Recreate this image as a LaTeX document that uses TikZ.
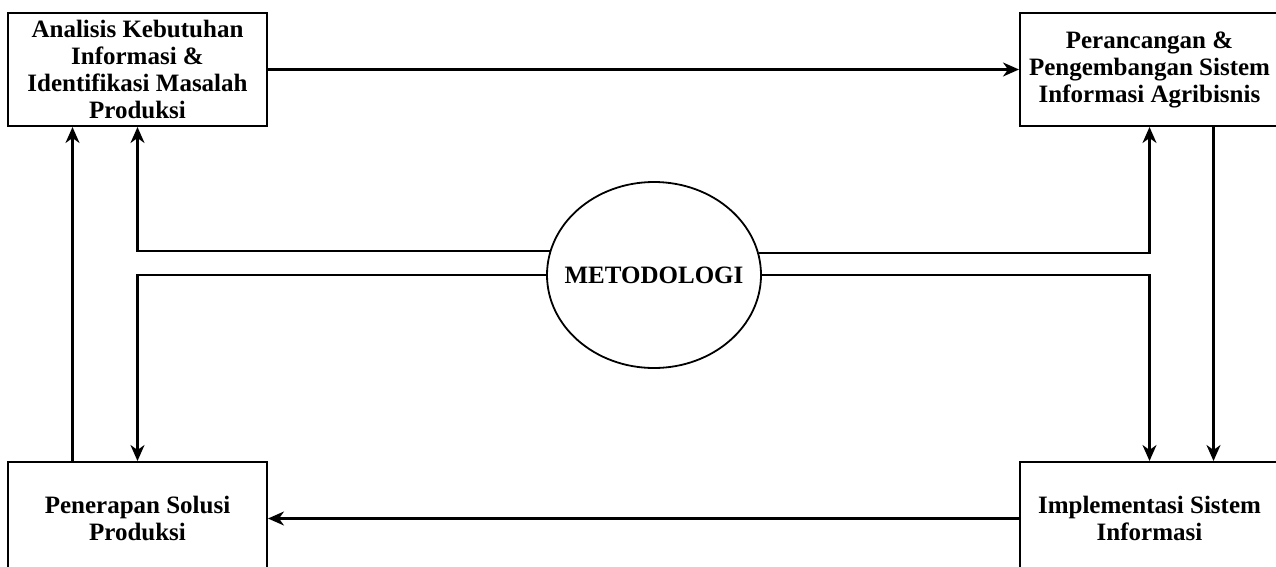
\documentclass[tikz,border=0pt]{standalone}
\usepackage{fontspec}
\setmainfont{Liberation Serif}
\usetikzlibrary{arrows.meta,positioning,calc,shapes.geometric}

\begin{document}
\begin{tikzpicture}[
    x=1pt, y=-1pt,
    box/.style={rectangle, draw, line width=2pt, minimum width=259pt, minimum height=113pt, inner sep=0pt, align=center, font=\bfseries\fontsize{25}{27}\selectfont},
    hub/.style={ellipse, draw, line width=1.8pt, minimum width=214pt, minimum height=186pt, inner xsep=-22pt, inner ysep=0pt, font=\bfseries\fontsize{25}{27}\selectfont},
    arr/.style={line width=2.1pt, -{Stealth[length=16pt, width=14pt, inset=5pt]}},
]
    \useasboundingbox (0,0) rectangle (1276,567);
    \clip (0,0) rectangle (1276,567);
    \node[box] (analisis) at (137.5,69.5) {Analisis Kebutuhan\\Informasi \&\\Identifikasi Masalah\\Produksi};
    \node[box] (rancang) at (1149.5,69.5) {Perancangan \&\\Pengembangan Sistem\\Informasi Agribisnis};
    \node[box] (terap) at (137.5,518.5) {Penerapan Solusi\\Produksi};
    \node[box] (impl) at (1149.5,518.5) {Implementasi Sistem\\Informasi};
    \node[hub] (metode) at (654,275) {METODOLOGI};

    \draw[arr] (analisis) -- (rancang);
    \draw[arr] ([xshift=64pt]rancang.south) -- ([xshift=64pt]impl.north);
    \draw[arr] (impl) -- (terap);
    \draw[arr] ([xshift=-65pt]terap.north) -- ([xshift=-65pt]analisis.south);
    % dari metodologi ke tiap tahap
    \draw[arr] (metode.167.5) -| (analisis.south);
    \draw[arr] (metode.180) -| (terap.north);
    \draw[arr] (metode.12.5) -| (rancang.south);
    \draw[arr] (metode.0) -| (impl.north);
\end{tikzpicture}
\end{document}
